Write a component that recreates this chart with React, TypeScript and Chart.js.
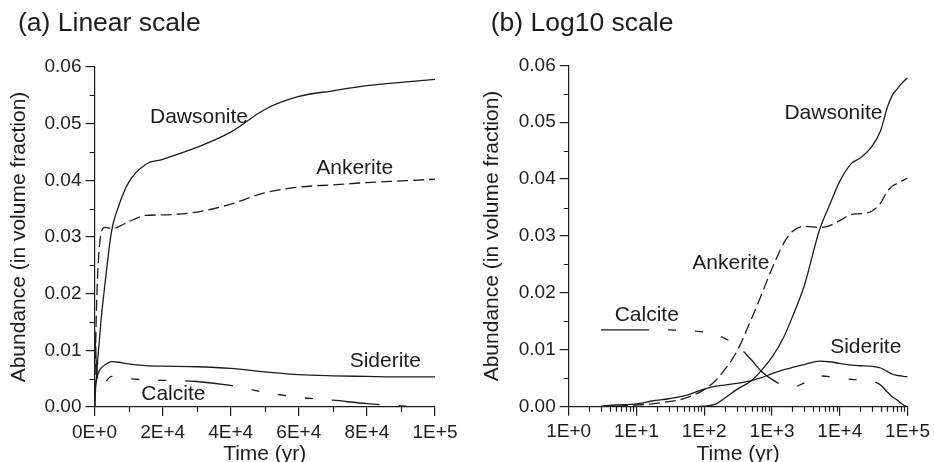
import React, { useEffect, useRef } from "react";
import { Chart, registerables } from "chart.js";

Chart.register(...registerables);

// ---------- data (time in years, abundance in volume fraction) ----------
const times = [3, 5, 10, 17, 30, 50, 100, 150, 200, 300, 500, 700, 1000, 1500, 2000, 3000, 5000, 7000, 10000, 15000, 20000, 30000, 40000, 50000, 60000, 70000, 80000, 90000, 100000];
const dawsonite = [0, 0, 0, 0, 0, 0, 0.0001, 0.0005, 0.0015, 0.003, 0.0046, 0.0064, 0.0087, 0.0123, 0.0158, 0.0213, 0.031, 0.0353, 0.0396, 0.0428, 0.0437, 0.0458, 0.0485, 0.0525, 0.0548, 0.0558, 0.0567, 0.0573, 0.0578];
const ankerite = [0, 0.0001, 0.0003, 0.0005, 0.0009, 0.0014, 0.003, 0.0047, 0.0065, 0.0096, 0.0155, 0.0197, 0.0243, 0.0288, 0.0308, 0.0317, 0.0315, 0.0318, 0.0327, 0.0338, 0.0339, 0.0344, 0.0358, 0.0378, 0.0388, 0.0392, 0.0396, 0.0399, 0.0402];
const siderite = [0.0001, 0.0003, 0.0005, 0.001, 0.0014, 0.0019, 0.0031, 0.0036, 0.0038, 0.0041, 0.0046, 0.0051, 0.0058, 0.0065, 0.0069, 0.0074, 0.008, 0.0079, 0.0076, 0.0073, 0.0072, 0.0071, 0.0068, 0.0062, 0.0057, 0.0055, 0.0054, 0.0053, 0.0053];
const calcite = [0.0135, 0.0135, 0.0135, 0.0135, 0.0135, 0.0134, 0.0131, 0.0127, 0.012, 0.0108, 0.0082, 0.0062, 0.0048, 0.0037, 0.0034, 0.0042, 0.0054, 0.0053, 0.005, 0.0048, 0.0047, 0.0045, 0.0038, 0.0026, 0.0017, 0.0012, 0.0006, 0.0002, 0];

// ---------- ticks ----------
const yTickValues = [0, 0.01, 0.02, 0.03, 0.04, 0.05, 0.06];
const yTickLabels = ["0.00", "0.01", "0.02", "0.03", "0.04", "0.05", "0.06"];
const yMinorValues = [0.005, 0.015, 0.025, 0.035, 0.045, 0.055];

const linTickValues = [0, 20000, 40000, 60000, 80000, 100000];
const linTickLabels = ["0E+0", "2E+4", "4E+4", "6E+4", "8E+4", "1E+5"];
const linMinorValues = [10000, 30000, 50000, 70000, 90000];

const logTickValues = [1, 10, 100, 1000, 10000, 100000];
const logTickLabels = ["1E+0", "1E+1", "1E+2", "1E+3", "1E+4", "1E+5"];
const logMinorMultipliers = [2, 3, 4, 5, 6, 7, 8, 9];
const logMinorValues = logTickValues.slice(0, -1).flatMap((d) => logMinorMultipliers.map((m) => m * d));

// ---------- curve label anchors (data coordinates) ----------
const linearLabelNames = ["Dawsonite", "Ankerite", "Siderite", "Calcite"];
const linearLabelX = [30690, 76420, 85400, 23150];
const linearLabelY = [0.0512, 0.0421, 0.008, 0.0023];

const logLabelNames = ["Dawsonite", "Ankerite", "Calcite", "Siderite"];
const logLabelX = [8054, 247, 14.2, 24150];
const logLabelY = [0.0516, 0.0252, 0.0161, 0.0105];

const FAMILY = "'Liberation Sans', Arial, Helvetica, sans-serif";
const INK = "#1c1c1c";

type Panel = {
  title: string;
  xType: "linear" | "logarithmic";
  xMin: number;
  xMax: number;
  xTicks: number[];
  xLabels: string[];
  xMinor: number[];
  labelNames: string[];
  labelX: number[];
  labelY: number[];
  padding: { left: number; right: number; top: number; bottom: number };
  titleBottom: number;
  yWidth: number;
  yTitlePad: number;
  xHeight: number;
};

function series(name: string, values: number[], dash: number[]) {
  return {
    label: name,
    data: times.map((t, i) => ({ x: t, y: values[i] })),
    borderColor: INK,
    backgroundColor: INK,
    borderWidth: 1.3,
    borderDash: dash,
    pointRadius: 0,
    fill: false,
    cubicInterpolationMode: "monotone" as const,
  };
}

function extrasPlugin(p: Panel) {
  return {
    id: "panelExtras",
    afterDraw(chart: any) {
      const { ctx } = chart;
      const xs = chart.scales.x;
      const ys = chart.scales.y;
      ctx.save();
      ctx.strokeStyle = INK;
      ctx.lineWidth = 1.2;
      ctx.beginPath();
      for (const v of p.xMinor) {
        const px = Math.round(xs.getPixelForValue(v)) + 0.5;
        ctx.moveTo(px, xs.top);
        ctx.lineTo(px, xs.top + 5);
      }
      for (const v of yMinorValues) {
        const py = Math.round(ys.getPixelForValue(v)) + 0.5;
        ctx.moveTo(ys.right, py);
        ctx.lineTo(ys.right - 5, py);
      }
      ctx.stroke();
      ctx.fillStyle = INK;
      ctx.font = `21px ${FAMILY}`;
      ctx.textAlign = "center";
      ctx.textBaseline = "middle";
      p.labelNames.forEach((name, i) => {
        ctx.fillText(name, xs.getPixelForValue(p.labelX[i]), ys.getPixelForValue(p.labelY[i]));
      });
      ctx.restore();
    },
  };
}

function buildConfig(p: Panel): any {
  const grid = { display: true, drawOnChartArea: false, drawTicks: true, tickLength: 9, color: INK, lineWidth: 1.2 };
  const border = { display: true, color: INK, width: 1.2 };
  return {
    type: "line",
    data: {
      datasets: [
        series("Dawsonite", dawsonite, []),
        series("Ankerite", ankerite, [11, 5]),
        series("Siderite", siderite, []),
        series("Calcite", calcite, [48, 19, 8, 19, 8, 19, 8, 19]),
      ],
    },
    options: {
      animation: false,
      responsive: false,
      events: [],
      layout: { padding: p.padding },
      plugins: {
        legend: { display: false },
        tooltip: { enabled: false },
        title: {
          display: true,
          text: p.title,
          align: "start",
          color: INK,
          font: { size: 26.5, weight: "normal", family: FAMILY, lineHeight: 1.2 },
          padding: { top: 7.9, bottom: p.titleBottom },
        },
      },
      scales: {
        x: {
          type: p.xType,
          min: p.xMin,
          max: p.xMax,
          afterBuildTicks: (s: any) => {
            s.ticks = p.xTicks.map((v) => ({ value: v }));
          },
          afterFit: (s: any) => {
            s.height = p.xHeight;
          },
          ticks: {
            autoSkip: false,
            maxRotation: 0,
            color: INK,
            padding: 5,
            font: { size: 19, family: FAMILY },
            callback: (_v: any, i: number) => p.xLabels[i],
          },
          grid,
          border,
          title: {
            display: true,
            text: "Time (yr)",
            color: INK,
            font: { size: 21, family: FAMILY, lineHeight: 1.2 },
            padding: { top: 0, bottom: 0 },
          },
        },
        y: {
          type: "linear",
          min: 0,
          max: 0.06,
          afterBuildTicks: (s: any) => {
            s.ticks = yTickValues.map((v) => ({ value: v }));
          },
          afterFit: (s: any) => {
            s.width = p.yWidth;
          },
          ticks: {
            color: INK,
            padding: 4,
            font: { size: 19, family: FAMILY },
            callback: (_v: any, i: number) => yTickLabels[i],
          },
          grid,
          border,
          title: {
            display: true,
            text: "Abundance (in volume fraction)",
            color: INK,
            font: { size: 21, family: FAMILY, lineHeight: 1.2 },
            padding: { top: p.yTitlePad, bottom: 0 },
          },
        },
      },
    },
    plugins: [extrasPlugin(p)],
  };
}

const linearPanel: Panel = {
  title: "(a) Linear scale",
  xType: "linear",
  xMin: 0,
  xMax: 100000,
  xTicks: linTickValues,
  xLabels: linTickLabels,
  xMinor: linMinorValues,
  labelNames: linearLabelNames,
  labelX: linearLabelX,
  labelY: linearLabelY,
  padding: { left: 18, right: 35, top: 0, bottom: 3 },
  titleBottom: 27.3,
  yWidth: 76.5,
  yTitlePad: -11.4,
  xHeight: 60,
};

const logPanel: Panel = {
  title: "(b) Log10 scale",
  xType: "logarithmic",
  xMin: 1,
  xMax: 100000,
  xTicks: logTickValues,
  xLabels: logTickLabels,
  xMinor: logMinorValues,
  labelNames: logLabelNames,
  labelX: logLabelX,
  labelY: logLabelY,
  padding: { left: 25.7, right: 25.7, top: 0, bottom: 3 },
  titleBottom: 25.6,
  yWidth: 78,
  yTitlePad: -10.9,
  xHeight: 60.3,
};

function PanelCanvas({ panel, left }: { panel: Panel; left: number }) {
  const ref = useRef<HTMLCanvasElement | null>(null);
  useEffect(() => {
    if (!ref.current) return;
    const chart = new Chart(ref.current, buildConfig(panel));
    return () => chart.destroy();
  }, [panel]);
  return (
    <canvas
      ref={ref}
      width={470}
      height={470}
      style={{ position: "absolute", left, top: 0, width: 470, height: 470 }}
    />
  );
}

export default function App() {
  return (
    <div style={{ position: "fixed", left: 0, top: 0, width: 935, height: 470, background: "#fff", overflow: "hidden" }}>
      <PanelCanvas panel={linearPanel} left={0} />
      <PanelCanvas panel={logPanel} left={465} />
    </div>
  );
}
